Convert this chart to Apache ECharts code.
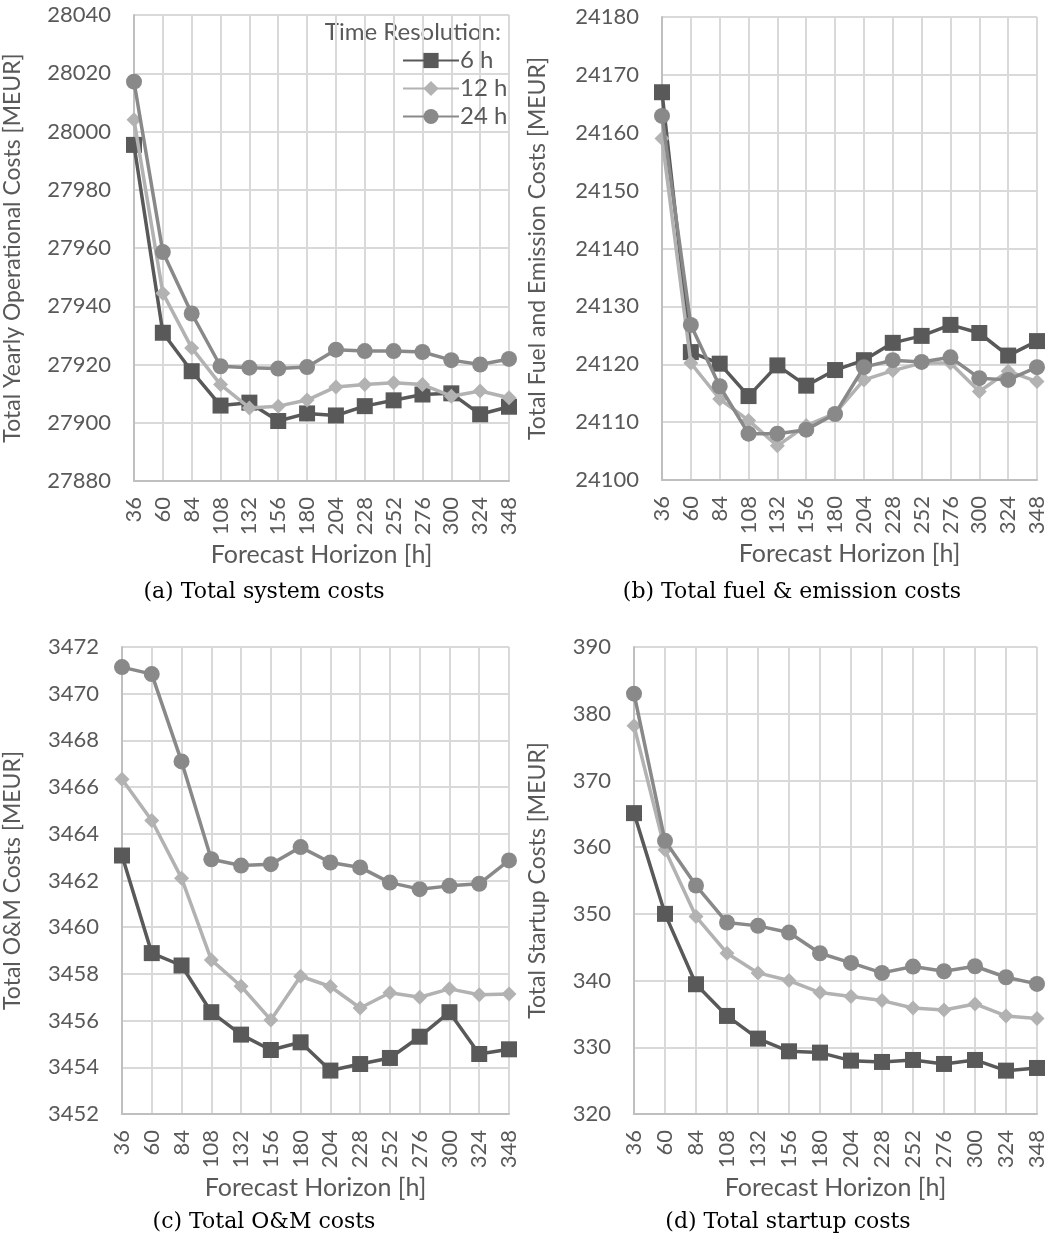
<!DOCTYPE html>
<html>
<head>
<meta charset="utf-8">
<script src="https://cdn.jsdelivr.net/npm/echarts@6/dist/echarts.min.js"></script>
<style>
  html, body { margin: 0; padding: 0; background: #fff; }
  #chart { width: 1054px; height: 1243px; }
</style>
</head>
<body>
<div id="chart"></div>
<script>
// Forecast horizons [h]
const hours = ['36','60','84','108','132','156','180','204','228','252','276','300','324','348'];
const resolutions = ['6 h', '12 h', '24 h'];

// (a) Total yearly operational costs [MEUR]
const sys6  = [27995.4, 27930.9, 27917.7, 27905.9, 27906.9, 27900.6, 27903.2, 27902.5, 27905.7, 27907.7, 27909.7, 27910.1, 27902.9, 27905.5];
const sys12 = [28004.0, 27944.5, 27925.7, 27913.1, 27905.1, 27905.7, 27907.8, 27912.3, 27913.1, 27913.7, 27913.1, 27909.1, 27910.9, 27908.6];
const sys24 = [28017.1, 27958.6, 27937.5, 27919.4, 27918.9, 27918.6, 27919.1, 27925.1, 27924.6, 27924.6, 27924.3, 27921.5, 27920.0, 27921.9];

// (b) Total fuel and emission costs [MEUR]
const fuel6  = [24167.0, 24122.1, 24120.1, 24114.5, 24119.8, 24116.3, 24119.0, 24120.7, 24123.7, 24124.9, 24126.8, 24125.4, 24121.5, 24124.0];
const fuel12 = [24159.0, 24120.2, 24114.0, 24110.3, 24105.9, 24109.4, 24111.5, 24117.3, 24118.9, 24120.2, 24120.2, 24115.3, 24118.8, 24117.0];
const fuel24 = [24162.9, 24126.8, 24116.2, 24108.0, 24108.0, 24108.7, 24111.4, 24119.5, 24120.7, 24120.4, 24121.2, 24117.6, 24117.3, 24119.5];

// (c) Total O&M costs [MEUR]
const om6  = [3463.07, 3458.89, 3458.36, 3456.36, 3455.40, 3454.74, 3455.07, 3453.86, 3454.14, 3454.40, 3455.31, 3456.36, 3454.57, 3454.77];
const om12 = [3466.34, 3464.57, 3462.10, 3458.60, 3457.47, 3456.03, 3457.90, 3457.46, 3456.54, 3457.19, 3457.00, 3457.36, 3457.11, 3457.14];
const om24 = [3471.14, 3470.84, 3467.10, 3462.91, 3462.64, 3462.70, 3463.43, 3462.77, 3462.56, 3461.91, 3461.63, 3461.77, 3461.86, 3462.86];

// (d) Total startup costs [MEUR]
const start6  = [365.1, 350.0, 339.45, 334.7, 331.3, 329.4, 329.2, 328.0, 327.8, 328.1, 327.5, 328.1, 326.5, 326.9];
const start12 = [378.2, 359.6, 349.6, 344.1, 341.15, 340.0, 338.2, 337.6, 337.0, 335.9, 335.6, 336.5, 334.7, 334.3];
const start24 = [383.0, 360.95, 354.25, 348.7, 348.2, 347.2, 344.1, 342.65, 341.15, 342.1, 341.4, 342.15, 340.5, 339.5];

// Y-axis ranges: [min, max, interval]
const yRanges = [[27880, 28040, 20], [24100, 24180, 10], [3452, 3472, 2], [320, 390, 10]];
const yNames = ['Total Yearly Operational Costs [MEUR]', 'Total Fuel and Emission Costs [MEUR]',
                'Total O&M Costs [MEUR]', 'Total Startup Costs [MEUR]'];
const captions = ['(a) Total system costs', '(b) Total fuel & emission costs',
                  '(c) Total O&M costs', '(d) Total startup costs'];
const panels = [[sys6, sys12, sys24], [fuel6, fuel12, fuel24], [om6, om12, om24], [start6, start12, start24]];

const FONT = 'Lato';
const TXT = '#595959';
const colors = ['#595959', '#b2b2b2', '#898989'];
const symbols = ['rect', 'diamond', 'circle'];
const symbolSizes = [16, 15, 16];

const grids = [
  { left: 130, top: 15, width: 379, height: 466 },
  { left: 662, top: 17, width: 375, height: 463 },
  { left: 118, top: 647, width: 391, height: 467 },
  { left: 634, top: 647, width: 403, height: 467 }
];
const yNameGaps = [110, 113, 98, 85];

const xAxes = grids.map((g, i) => ({
  type: 'category', gridIndex: i, data: hours, boundaryGap: false,
  name: 'Forecast Horizon [h]', nameLocation: 'middle', nameGap: 61,
  nameTextStyle: { fontFamily: FONT, fontSize: 25, color: TXT },
  axisLine: { lineStyle: { color: '#bfbfbf', width: 2 } },
  axisTick: { show: false },
  axisLabel: { rotate: 90, margin: 16, fontFamily: FONT, fontSize: 22, color: TXT, interval: 0 },
  splitLine: { show: true, interval: 0, lineStyle: { color: '#d9d9d9', width: 2 } }
}));

const yAxes = grids.map((g, i) => ({
  type: 'value', gridIndex: i,
  min: yRanges[i][0], max: yRanges[i][1], interval: yRanges[i][2],
  name: yNames[i], nameLocation: 'middle', nameGap: yNameGaps[i], nameRotate: 90,
  nameTextStyle: { fontFamily: FONT, fontSize: 23, color: TXT },
  axisLine: { show: true, lineStyle: { color: '#bfbfbf', width: 2 } },
  axisTick: { show: false },
  axisLabel: { margin: 23, fontFamily: FONT, fontSize: 22, color: TXT, formatter: v => String(v) },
  splitLine: { show: true, lineStyle: { color: '#d9d9d9', width: 2 } }
}));

const series = [];
panels.forEach((sets, i) => {
  sets.forEach((vals, k) => {
    series.push({
      type: 'line', name: resolutions[k], xAxisIndex: i, yAxisIndex: i,
      data: vals, symbol: symbols[k], symbolSize: symbolSizes[k],
      showAllSymbol: true,
      lineStyle: { color: colors[k], width: 3.5 },
      itemStyle: { color: colors[k] },
      z: 2 + k, animation: false
    });
  });
});

const captionPos = [[264, 592], [792, 592], [264, 1222], [788, 1222]];

const chart = echarts.init(document.getElementById('chart'), null, { renderer: 'canvas' });
chart.setOption({
  animation: false,
  backgroundColor: '#fff',
  grid: grids,
  xAxis: xAxes,
  yAxis: yAxes,
  legend: {
    data: resolutions, orient: 'vertical', left: 397, top: 43,
    itemWidth: 56, itemHeight: 19, itemGap: 3,
    textStyle: { fontFamily: FONT, fontSize: 24, color: TXT, lineHeight: 25, padding: [0, 0, 0, -4] },
    selectedMode: false
  },
  graphic: [
    { type: 'text', x: 501, y: 32,
      style: { text: 'Time Resolution:', fontFamily: FONT, fontSize: 24, fill: TXT, align: 'right', verticalAlign: 'middle' } }
  ].concat(captions.map((c, i) => ({
    type: 'text', x: captionPos[i][0], y: captionPos[i][1],
    style: { text: c, fontFamily: 'DejaVu Serif', fontSize: 22, fill: '#000', align: 'center', verticalAlign: 'middle' }
  }))),
  series: series
});
</script>
</body>
</html>
